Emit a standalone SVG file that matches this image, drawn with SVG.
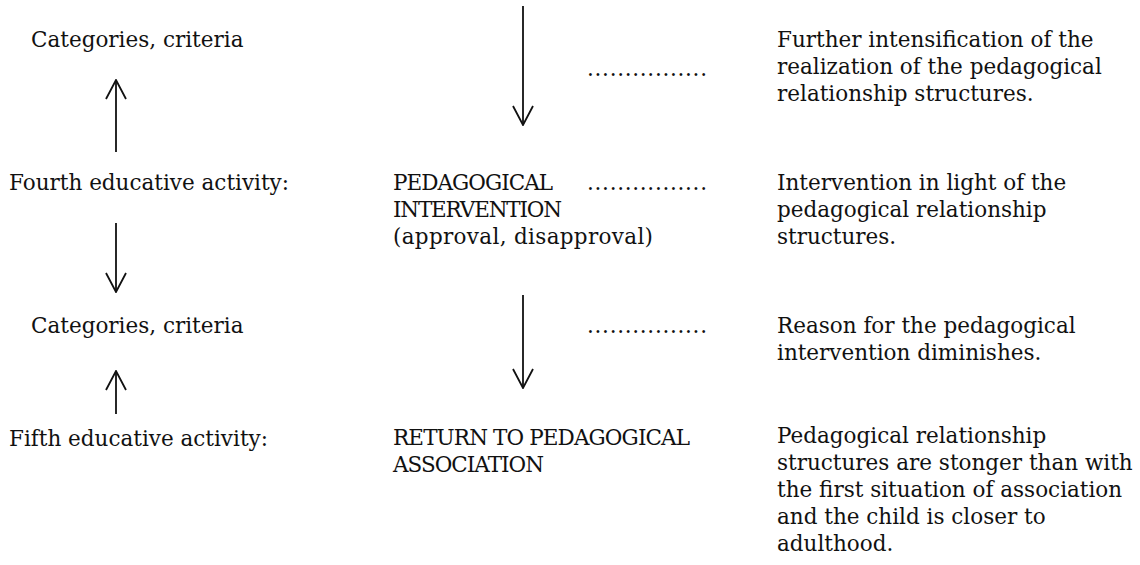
<svg xmlns="http://www.w3.org/2000/svg" width="1140" height="565" viewBox="0 0 1140 565">
<style>
text { font-family: "DejaVu Serif", "Liberation Serif", serif; font-size: 21.5px; fill: #111; }
.arr { stroke: #111; stroke-width: 1.8; fill: none; }
.dots { font-weight: bold; }
</style>
<defs>
<marker id="head" viewBox="-21 -11 22 22" markerWidth="22" markerHeight="22" refX="0" refY="0" orient="auto" markerUnits="userSpaceOnUse">
<path d="M -19 -10 L 0 0 L -19 10" stroke="#111" stroke-width="1.8" fill="none"/>
</marker>
</defs>
<rect width="1140" height="565" fill="#fff"/>
<g id="connectors">
<line class="arr" x1="116" y1="152" x2="116" y2="80" marker-end="url(#head)"/>
<line class="arr" x1="116" y1="223" x2="116" y2="292" marker-end="url(#head)"/>
<line class="arr" x1="116" y1="414" x2="116" y2="371" marker-end="url(#head)"/>
<line class="arr" x1="523" y1="6" x2="523" y2="125" marker-end="url(#head)"/>
<line class="arr" x1="523" y1="295" x2="523" y2="388" marker-end="url(#head)"/>
</g>
<g id="left-categories-1"><text x="31" y="47">Categories, criteria</text></g>
<g id="left-fourth"><text x="9" y="190">Fourth educative activity:</text></g>
<g id="left-categories-2"><text x="31" y="333">Categories, criteria</text></g>
<g id="left-fifth"><text x="9" y="446">Fifth educative activity:</text></g>
<g id="mid-intervention">
<text x="393" y="190" textLength="160">PEDAGOGICAL</text>
<text x="393" y="217" textLength="169">INTERVENTION</text>
<text x="393" y="244" textLength="260">(approval, disapproval)</text>
</g>
<g id="mid-return">
<text x="393" y="445" textLength="297">RETURN TO PEDAGOGICAL</text>
<text x="393" y="472" textLength="151">ASSOCIATION</text>
</g>
<g id="dots">
<text x="587" y="76" textLength="120">................</text>
<text x="587" y="190" textLength="120">................</text>
<text x="587" y="333" textLength="120">................</text>
</g>
<g id="right-1">
<text x="777" y="47">Further intensification of the</text>
<text x="777" y="74">realization of the pedagogical</text>
<text x="777" y="101">relationship structures.</text>
</g>
<g id="right-2">
<text x="777" y="190">Intervention in light of the</text>
<text x="777" y="217">pedagogical relationship</text>
<text x="777" y="244">structures.</text>
</g>
<g id="right-3">
<text x="777" y="333">Reason for the pedagogical</text>
<text x="777" y="360">intervention diminishes.</text>
</g>
<g id="right-4">
<text x="777" y="443">Pedagogical relationship</text>
<text x="777" y="470">structures are stonger than with</text>
<text x="777" y="497">the first situation of association</text>
<text x="777" y="524">and the child is closer to</text>
<text x="777" y="551">adulthood.</text>
</g>
</svg>
